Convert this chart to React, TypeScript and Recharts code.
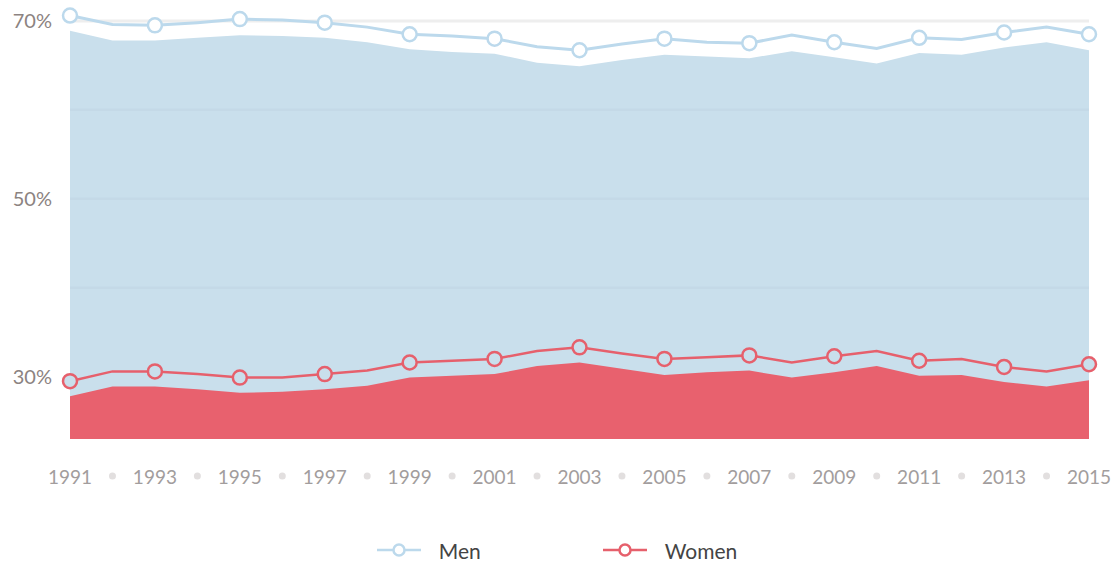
import {
  ComposedChart,
  Area,
  Line,
  XAxis,
  YAxis,
  ReferenceLine,
} from 'recharts';

const years = [
  1991, 1992, 1993, 1994, 1995, 1996, 1997, 1998, 1999, 2000, 2001, 2002, 2003,
  2004, 2005, 2006, 2007, 2008, 2009, 2010, 2011, 2012, 2013, 2014, 2015,
];

// line values (drawn slightly above the filled areas in the original)
const menLine = [
  70.6, 69.6, 69.5, 69.8, 70.2, 70.1, 69.8, 69.3, 68.5, 68.3, 68.0, 67.1, 66.7,
  67.4, 68.0, 67.6, 67.5, 68.4, 67.6, 66.9, 68.1, 67.9, 68.7, 69.3, 68.5,
];
const womenLine = [
  29.5, 30.6, 30.6, 30.3, 29.9, 29.9, 30.3, 30.7, 31.6, 31.8, 32.0, 32.9, 33.3,
  32.6, 32.0, 32.2, 32.4, 31.6, 32.3, 32.9, 31.8, 32.0, 31.1, 30.6, 31.4,
];

// filled area tops
const menArea = [
  68.9, 67.8, 67.8, 68.1, 68.4, 68.3, 68.1, 67.6, 66.8, 66.5, 66.3, 65.3, 64.9,
  65.6, 66.2, 66.0, 65.8, 66.6, 65.9, 65.2, 66.4, 66.2, 67.0, 67.6, 66.7,
];
const womenArea = [
  27.8, 28.9, 28.9, 28.6, 28.2, 28.3, 28.6, 29.0, 29.9, 30.1, 30.3, 31.2, 31.6,
  30.9, 30.2, 30.5, 30.7, 29.9, 30.5, 31.2, 30.1, 30.2, 29.4, 28.9, 29.6,
];

const yTicks = [30, 50, 70];
const innerGrid = [40, 50, 60];

const seriesNames = ['Men', 'Women'];
const lineColors = ['#bcd9ec', '#e6606c'];
const dotFills = ['#ffffff', '#c9dfec'];

const data = years.map((year, i) => ({
  year,
  menLine: menLine[i],
  womenLine: womenLine[i],
  menArea: menArea[i],
  womenArea: womenArea[i],
}));

const makeDot = (stroke: string, fill: string) => (props: any) => {
  const { cx, cy, index } = props;
  if (index % 2 !== 0) return <g key={`d-${index}`} />;
  return (
    <circle
      key={`d-${index}`}
      cx={cx}
      cy={cy}
      r={7}
      fill={fill}
      stroke={stroke}
      strokeWidth={2.5}
    />
  );
};

const YearTick = (props: any) => {
  const { x, y, payload, index } = props;
  if (index % 2 === 1) {
    return <circle cx={x} cy={y + 37} r={3.5} fill="#e2dfdf" />;
  }
  return (
    <text
      x={x}
      y={y + 38}
      dy="0.36em"
      textAnchor="middle"
      fill="#a29d9d"
      fontSize={19}
      fontFamily="Lato, 'Open Sans', sans-serif"
    >
      {payload.value}
    </text>
  );
};

function LegendRow() {
  return (
    <div
      style={{
        position: 'absolute',
        left: 0,
        top: 536,
        width: 1114,
        display: 'flex',
        justifyContent: 'center',
        gap: 122,
        fontFamily: "Lato, 'Open Sans', sans-serif",
        fontSize: 21,
        color: '#444',
      }}
    >
      {seriesNames.map((name, i) => (
        <div key={name} style={{ display: 'flex', alignItems: 'center' }}>
          <svg width={44} height={28} style={{ marginRight: 18 }}>
            <line x1={0} x2={44} y1={14} y2={14} stroke={lineColors[i]} strokeWidth={2.5} />
            <circle cx={22} cy={14} r={5.5} fill="#fff" stroke={lineColors[i]} strokeWidth={2.5} />
          </svg>
          <span>{name}</span>
        </div>
      ))}
    </div>
  );
}

export default function App() {
  return (
    <div
      style={{
        position: 'absolute',
        left: 0,
        top: 0,
        width: 1114,
        height: 563,
        background: '#fff',
      }}
    >
      <ComposedChart
        width={1114}
        height={563}
        data={data}
        margin={{ top: 12, right: 25, bottom: 0, left: 0 }}
      >
        <XAxis
          dataKey="year"
          scale="point"
          padding={{ left: 0, right: 0 }}
          interval={0}
          height={124}
          tickLine={false}
          axisLine={false}
          tickSize={0}
          tickMargin={0}
          tick={<YearTick />}
        />
        <YAxis
          domain={[23, 71]}
          ticks={yTicks}
          width={70}
          tickLine={false}
          axisLine={false}
          tickSize={0}
          tickMargin={18}
          tickFormatter={(v: number) => `${v}%`}
          tick={{
            fill: '#8c8381',
            fontSize: 20,
            fontFamily: "Lato, 'Open Sans', sans-serif",
          }}
        />
        <Area
          type="linear"
          dataKey="menArea"
          stroke="none"
          fill="#c9dfec"
          fillOpacity={1}
          isAnimationActive={false}
          activeDot={false}
          legendType="none"
        />
        <Area
          type="linear"
          dataKey="womenArea"
          stroke="none"
          fill="#e8616e"
          fillOpacity={1}
          isAnimationActive={false}
          activeDot={false}
          legendType="none"
        />
        <ReferenceLine y={70} stroke="#eeeeee" strokeWidth={3} />
        {innerGrid.map((v) => (
          <ReferenceLine key={v} y={v} stroke="#c4d9e7" strokeWidth={2.5} />
        ))}
        <Line
          type="linear"
          dataKey="menLine"
          name="Men"
          stroke={lineColors[0]}
          strokeWidth={3}
          dot={makeDot(lineColors[0], dotFills[0])}
          activeDot={false}
          isAnimationActive={false}
        />
        <Line
          type="linear"
          dataKey="womenLine"
          name="Women"
          stroke={lineColors[1]}
          strokeWidth={2.5}
          dot={makeDot(lineColors[1], dotFills[1])}
          activeDot={false}
          isAnimationActive={false}
        />
      </ComposedChart>
      <LegendRow />
    </div>
  );
}
